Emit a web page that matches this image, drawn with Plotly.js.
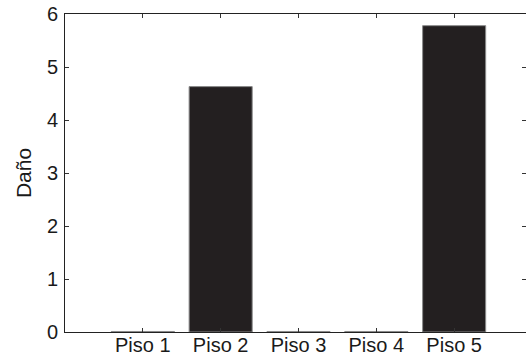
<!DOCTYPE html>
<html>
<head>
<meta charset="utf-8">
<script src="https://cdn.plot.ly/plotly-3.0.1.min.js"></script>
<style>html,body{margin:0;padding:0;background:#fff;}#chart{width:526px;height:358px;}</style>
</head>
<body>
<div id="chart"></div>
<script>
const categories = [1, 2, 3, 4, 5];
const tickLabels = ["Piso 1", "Piso 2", "Piso 3", "Piso 4", "Piso 5"];
const damage = [0.01, 4.63, 0.01, 0.01, 5.78];

const trace = {
  type: "bar",
  x: categories,
  y: damage,
  width: 0.81,
  marker: {color: "#231f20", line: {color: "#8a8a8a", width: 1}},
  hoverinfo: "none"
};

const layout = {
  width: 526, height: 358,
  margin: {l: 65, r: 0, t: 14, b: 26, pad: 0},
  paper_bgcolor: "#fff", plot_bgcolor: "#fff",
  showlegend: false,
  font: {family: "Liberation Sans, Arial, sans-serif", size: 20, color: "#1a1a1a"},
  xaxis: {
    range: [0, 5.923],
    tickmode: "array", tickvals: categories, ticktext: tickLabels,
    ticks: "inside", ticklen: 4, tickcolor: "#333", tickwidth: 1,
    showline: true, linecolor: "#222", linewidth: 1, mirror: "ticks",
    showgrid: false, zeroline: false,
    ticklabelstandoff: -5,
    tickfont: {size: 20, color: "#1a1a1a"}
  },
  yaxis: {
    range: [0, 6],
    tickmode: "array", tickvals: [0, 1, 2, 3, 4, 5, 6],
    ticks: "inside", ticklen: 4, tickcolor: "#333", tickwidth: 1,
    showline: true, linecolor: "#222", linewidth: 1, mirror: "ticks",
    showgrid: false, zeroline: false,
    ticklabelstandoff: 2,
    tickfont: {size: 20, color: "#1a1a1a"},
    title: {text: "Daño", font: {size: 21, color: "#1a1a1a"}, standoff: 9}
  }
};

Plotly.newPlot("chart", [trace], layout, {displayModeBar: false, staticPlot: true});
</script>
</body>
</html>
